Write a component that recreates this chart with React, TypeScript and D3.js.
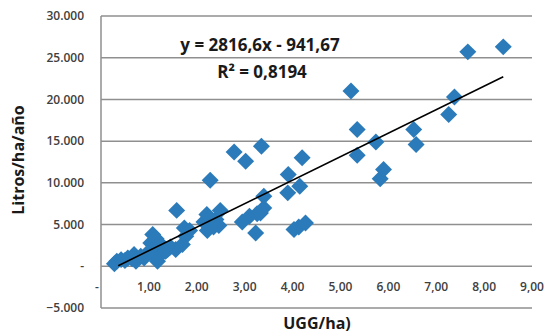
import React, { useEffect, useRef } from "react";
import * as d3 from "d3";

// UGG/ha
const uggPerHa = [
	0.28, 0.33, 0.42, 0.5, 0.56, 0.65, 0.69, 0.73, 0.83, 0.9, 0.94, 1.04, 1.08,
	1.1, 1.15, 1.18, 1.22, 1.25, 1.28, 1.35, 1.39, 1.45, 1.56, 1.58, 1.7, 1.74,
	1.77, 1.85, 2.15, 2.21, 2.22, 2.28, 2.35, 2.4, 2.46, 2.49, 2.78, 2.95, 3.02,
	3.1, 3.23, 3.26, 3.33, 3.35, 3.4, 3.4, 3.9, 3.91, 4.03, 4.15, 4.13, 4.2, 4.27,
	5.22, 5.35, 5.35, 5.74, 5.83, 5.9, 6.53, 6.58, 7.26, 7.38, 7.66, 8.4,
];
// Litros/ha/año
const litros = [
	300, 600, 800, 700, 1000, 900, 1400, 600, 1200, 1000, 1400, 2800, 3800, 1400,
	3300, 600, 2400, 2600, 1600, 1800, 2000, 2300, 2000, 6700, 2600, 4600, 3600,
	4300, 5300, 6200, 4300, 10300, 4700, 5600, 4900, 6700, 13700, 5300, 12600,
	6000, 4000, 6300, 6400, 14400, 8400, 7000, 8800, 11000, 4400, 9600, 4700,
	13000, 5200, 21000, 16400, 13300, 14900, 10500, 11600, 16400, 14600, 18200,
	20300, 25700, 26300,
];

const xTicks = [0, 1, 2, 3, 4, 5, 6, 7, 8, 9];
const yTicks = [-5000, 0, 5000, 10000, 15000, 20000, 25000, 30000];
const slope = 2816.6;
const intercept = -941.67;

const fmtY = (v: number) => (v === 0 ? "-" : d3.format(",")(v).replace(/,/g, "."));
const fmtX = (v: number) => (v === 0 ? "-" : v.toFixed(2).replace(".", ","));

export default function App() {
	const svgRef = useRef<SVGSVGElement>(null);

	useEffect(() => {
		if (!svgRef.current) return;
		const svg = d3.select(svgRef.current);
		svg.selectAll("*").remove();

		const x = d3.scaleLinear().domain([0, 9]).range([101, 532]);
		const y = d3.scaleLinear().domain([-5000, 30000]).range([308, 16]);
		const font = "'Open Sans', sans-serif";

		// gridlines
		svg
			.append("g")
			.selectAll("line")
			.data(yTicks.filter((t) => t > -5000))
			.enter()
			.append("line")
			.attr("x1", x(0))
			.attr("x2", x(9))
			.attr("y1", (d) => y(d))
			.attr("y2", (d) => y(d))
			.attr("stroke", "#8f8f8f")
			.attr("stroke-width", 1.5);

		// axes lines
		svg
			.append("line")
			.attr("x1", x(0))
			.attr("x2", x(9))
			.attr("y1", y(-5000))
			.attr("y2", y(-5000))
			.attr("stroke", "#8f8f8f")
			.attr("stroke-width", 1.5);
		svg
			.append("line")
			.attr("x1", x(0))
			.attr("x2", x(0))
			.attr("y1", y(30000))
			.attr("y2", y(-5000))
			.attr("stroke", "#8f8f8f")
			.attr("stroke-width", 1.5);

		// y tick labels
		svg
			.append("g")
			.selectAll("text")
			.data(yTicks)
			.enter()
			.append("text")
			.attr("x", 84)
			.attr("y", (d) => y(d))
			.attr("dy", "0.35em")
			.attr("text-anchor", "end")
			.attr("font-family", font)
			.attr("font-weight", 600)
			.attr("font-size", 12)
			.attr("fill", "#404040")
			.text(fmtY);

		// x tick labels (sit between 0 and -5000)
		svg
			.append("g")
			.selectAll("text")
			.data(xTicks)
			.enter()
			.append("text")
			.attr("x", (d) => (d === 0 ? x(0) - 4 : x(d)))
			.attr("y", 287)
			.attr("dy", "0.35em")
			.attr("text-anchor", "middle")
			.attr("font-family", font)
			.attr("font-weight", 600)
			.attr("font-size", 12)
			.attr("fill", "#404040")
			.text(fmtX);

		// points
		const pts = uggPerHa.map((u, i) => ({ u, l: litros[i] }));
		const diamond = d3.symbol().type(d3.symbolSquare).size(144);
		svg
			.append("g")
			.selectAll("path")
			.data(pts)
			.enter()
			.append("path")
			.attr("d", diamond)
			.attr("transform", (d) => `translate(${x(d.u)},${y(d.l)}) rotate(45)`)
			.attr("fill", "#2b7bba");

		// trendline
		const [x0, x1] = d3.extent(uggPerHa) as [number, number];
		const line = d3
			.line<number>()
			.x((d) => x(d))
			.y((d) => y(slope * d + intercept));
		svg
			.append("path")
			.datum([x0 + 0.08, x1])
			.attr("d", line)
			.attr("fill", "none")
			.attr("stroke", "#000")
			.attr("stroke-width", 1.6);

		// equation
		svg
			.append("text")
			.attr("x", 260)
			.attr("y", 51)
			.attr("text-anchor", "middle")
			.attr("font-family", font)
			.attr("font-weight", 700)
			.attr("font-size", 17)
			.attr("fill", "#1a1a1a")
			.text("y = 2816,6x - 941,67");
		svg
			.append("text")
			.attr("x", 262)
			.attr("y", 78)
			.attr("text-anchor", "middle")
			.attr("font-family", font)
			.attr("font-weight", 700)
			.attr("font-size", 17)
			.attr("fill", "#1a1a1a")
			.text("R² = 0,8194");

		// axis titles
		svg
			.append("text")
			.attr("transform", "translate(24,160) rotate(-90)")
			.attr("text-anchor", "middle")
			.attr("font-family", font)
			.attr("font-weight", 700)
			.attr("font-size", 16)
			.attr("fill", "#1a1a1a")
			.text("Litros/ha/año");
		svg
			.append("text")
			.attr("x", 317)
			.attr("y", 329)
			.attr("text-anchor", "middle")
			.attr("font-family", font)
			.attr("font-weight", 700)
			.attr("font-size", 16)
			.attr("fill", "#1a1a1a")
			.text("UGG/ha)");
	}, []);

	return (
		<svg
			ref={svgRef}
			width={546}
			height={335}
			style={{ position: "absolute", left: 0, top: 0, background: "#fff" }}
		></svg>
	);
}
